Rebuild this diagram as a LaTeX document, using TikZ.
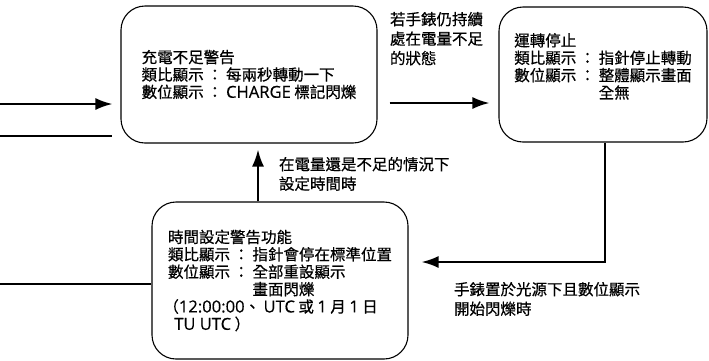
\documentclass[tikz,border=0pt]{standalone}
\usepackage{fontspec}
\setmainfont{Noto Sans CJK TC}[FakeBold=0.6]
\newfontfamily\lat{Open Sans}[Scale=1.07,FakeBold=0.4]
\usetikzlibrary{arrows.meta}
\usetikzlibrary{calc}

\begin{document}
\begin{tikzpicture}[x=1pt,y=-1pt,line width=2pt,node distance=354pt,>={Latex[length=17pt,width=12pt]},
  state/.style={draw,line width=1.1pt,rounded corners=24pt,align=left,inner sep=0pt,
    font=\fontsize{15.5}{17.4}\selectfont},
  note/.style={align=left,anchor=north west,inner sep=0pt,font=\fontsize{15.5}{19.5}\selectfont}]
\useasboundingbox (0,0) rectangle (709,360);
\draw (249,74.5) node [state,minimum width=256pt,minimum height=137pt] (warn)
  {充電不足警告\\類比顯示 ： 每兩秒轉動一下\\數位顯示 ： {\lat CHARGE} 標記閃爍};
\draw node [state,minimum width=208pt,minimum height=135pt] [right of=warn] (stop)
  {運轉停止\\類比顯示 ： 指針停止轉動\\數位顯示 ： 整體顯示畫面\\\phantom{數位顯示 ： }全無\\\mbox{}};
\draw (280,280.5) node [state,minimum width=256pt,minimum height=157pt] (timeset)
  {時間設定警告功能\\類比顯示 ： 指針會停在標準位置\\數位顯示 ： 全部重設顯示\\\phantom{數位顯示 ： }畫面閃爍\\
   \hspace*{-0.3em}（{\lat 12:00:00}、 {\lat UTC} 或 {\lat 1} 月 {\lat 1} 日\\\hspace*{0.4em}{\lat TU UTC} ）};
% labels
\draw (389,11) node [note] (keep) {若手錶仍持續\\處在電量不足\\的狀態};
\draw (278,156) node [note] (setlow) {在電量還是不足的情況下\\設定時間時};
\draw (453,281) node [note] (light) {手錶置於光源下且數位顯示\\開始閃爍時};
% connectors
\coordinate (in1) at (0,104);
\coordinate (in2) at (0,136);
\coordinate (in3) at (0,284);
\coordinate (row) at (0,103);
\coordinate (up) at (258,0);
\coordinate (back) at (0,262);
\draw [->] (in1) -- ([xshift=-8pt]warn.west |- in1);
\draw (in2) -- ([xshift=-8pt]warn.west |- in2);
\draw (in3) -- (timeset.west |- in3);
\draw [->] ([xshift=12pt]warn.east |- row) -- ([xshift=-9pt]stop.west |- row);
\draw [->] (timeset.north -| up) -- ([yshift=-6pt]warn.south -| up);
\draw [->] ([xshift=2pt]stop.south) |- ([xshift=13pt]timeset.east |- back);
\end{tikzpicture}
\end{document}
